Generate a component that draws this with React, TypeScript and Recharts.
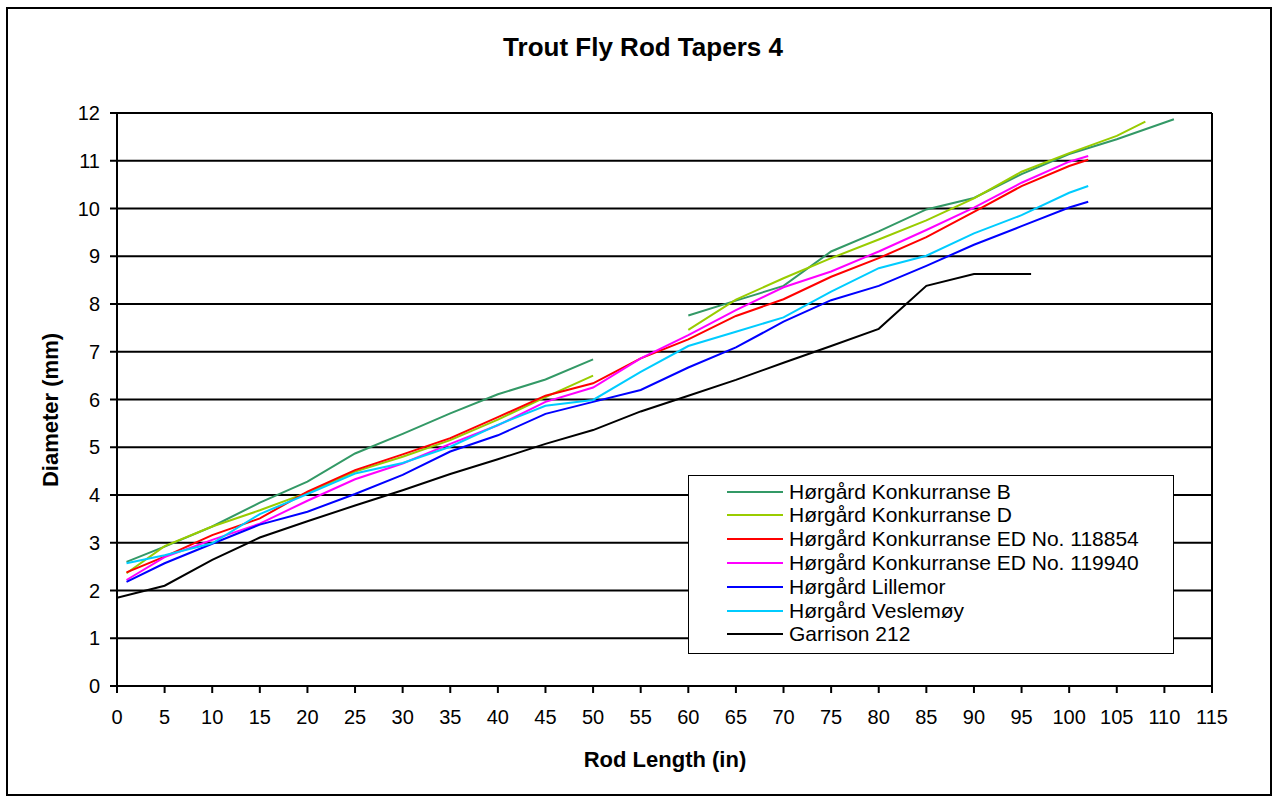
import React from "react";
import { LineChart, Line, XAxis, YAxis, CartesianGrid, ReferenceLine } from "recharts";

// rod length stations (in)
const stations = [1, 5, 10, 15, 20, 25, 30, 35, 40, 45, 50, 55, 60, 65, 70, 75, 80, 85, 90, 95, 100];
const stationsB = [...stations, 105, 111];
const stationsD = [...stations, 105, 108];
const stationsEd = [...stations, 102];
const stationsGarrison = [0, 5, 10, 15, 20, 25, 30, 35, 40, 45, 50, 55, 60, 65, 70, 75, 80, 85, 90, 96];

// diameters (mm)
const konkB = [2.6, 2.92, 3.34, 3.84, 4.28, 4.87, 5.28, 5.71, 6.11, 6.42, 6.84, null, 7.76, 8.07, 8.38, 9.1, 9.52, 9.98, 10.22, 10.72, 11.14, 11.45, 11.87];
const konkD = [2.36, 2.93, 3.34, 3.68, 4.05, 4.49, 4.8, 5.15, 5.58, 6.05, 6.5, null, 7.46, 8.09, 8.54, 8.96, 9.35, 9.75, 10.21, 10.77, 11.16, 11.52, 11.82];
const ed118854 = [2.38, 2.71, 3.16, 3.51, 4.07, 4.52, 4.85, 5.19, 5.63, 6.08, 6.34, 6.86, 7.26, 7.75, 8.1, 8.57, 8.96, 9.4, 9.93, 10.47, 10.89, 11.02];
const ed119940 = [2.22, 2.7, 3.06, 3.4, 3.88, 4.33, 4.66, 5.07, 5.46, 5.95, 6.25, 6.86, 7.35, 7.87, 8.35, 8.68, 9.1, 9.55, 10.02, 10.54, 10.98, 11.1];
const lillemor = [2.18, 2.57, 2.98, 3.38, 3.65, 4.02, 4.42, 4.91, 5.25, 5.7, 5.95, 6.2, 6.67, 7.09, 7.63, 8.08, 8.38, 8.8, 9.24, 9.63, 10.02, 10.14];
const veslemoy = [2.57, 2.74, 2.99, 3.6, 4.02, 4.45, 4.67, 5.01, 5.47, 5.87, 5.99, 6.58, 7.12, 7.42, 7.72, 8.26, 8.75, 9.01, 9.48, 9.86, 10.33, 10.47];
const garrison = [1.85, 2.1, 2.64, 3.11, 3.45, 3.78, 4.1, 4.44, 4.75, 5.07, 5.36, 5.75, 6.08, 6.41, 6.77, 7.12, 7.48, 8.38, 8.63, 8.63];

const xTicks = [0, 5, 10, 15, 20, 25, 30, 35, 40, 45, 50, 55, 60, 65, 70, 75, 80, 85, 90, 95, 100, 105, 110, 115];
const yTicks = [0, 1, 2, 3, 4, 5, 6, 7, 8, 9, 10, 11, 12];

const toPoints = (xs: number[], ys: (number | null)[]) => xs.map((x, i) => ({ x, y: ys[i] }));

const series = [
  { name: "Hørgård Konkurranse B", color: "#339966", data: toPoints(stationsB, konkB) },
  { name: "Hørgård Konkurranse D", color: "#99cc00", data: toPoints(stationsD, konkD) },
  { name: "Hørgård Konkurranse ED No. 118854", color: "#ff0000", data: toPoints(stationsEd, ed118854) },
  { name: "Hørgård Konkurranse ED No. 119940", color: "#ff00ff", data: toPoints(stationsEd, ed119940) },
  { name: "Hørgård Lillemor", color: "#0000ff", data: toPoints(stationsEd, lillemor) },
  { name: "Hørgård Veslemøy", color: "#00ccff", data: toPoints(stationsEd, veslemoy) },
  { name: "Garrison 212", color: "#000000", data: toPoints(stationsGarrison, garrison) },
];

const font = "'Liberation Sans', Arial, sans-serif";

export default function App() {
  return (
    <div style={{ position: "absolute", left: 0, top: 0, width: 1278, height: 801, background: "#fff", fontFamily: font }}>
      <div style={{ position: "absolute", left: 6, top: 7, width: 1266, height: 789, border: "2px solid #000", boxSizing: "border-box" }} />
      <LineChart width={1278} height={801} margin={{ top: 113, right: 66, bottom: 85, left: 57 }} style={{ position: "absolute", left: 0, top: 0 }}>
        <CartesianGrid vertical={false} stroke="#000" strokeWidth={2} />
        <XAxis
          type="number"
          dataKey="x"
          domain={[0, 115]}
          ticks={xTicks}
          interval={0}
          height={30}
          tickSize={7}
          tickMargin={17}
          stroke="#000"
          strokeWidth={2}
          tick={{ fill: "#000", fontSize: 20, fontFamily: font }}
          allowDataOverflow
        />
        <YAxis
          type="number"
          domain={[0, 12]}
          ticks={yTicks}
          interval={0}
          width={60}
          tickSize={7}
          tickMargin={10}
          stroke="#000"
          strokeWidth={2}
          tick={{ fill: "#000", fontSize: 20, fontFamily: font }}
        />
        <ReferenceLine x={115} stroke="#000" strokeWidth={2} />
        {series.map((s) => (
          <Line
            key={s.name}
            data={s.data}
            dataKey="y"
            name={s.name}
            type="linear"
            stroke={s.color}
            strokeWidth={2}
            dot={false}
            activeDot={false}
            connectNulls={false}
            isAnimationActive={false}
          />
        ))}
      </LineChart>
      <svg width={1278} height={801} style={{ position: "absolute", left: 0, top: 0, pointerEvents: "none" }}>
        <text x={643} y={56} textAnchor="middle" fontSize={26} fontWeight="bold" fontFamily={font} fill="#000">
          Trout Fly Rod Tapers 4
        </text>
        <text x={665} y={767} textAnchor="middle" fontSize={22} fontWeight="bold" fontFamily={font} fill="#000">
          Rod Length (in)
        </text>
        <text x={58} y={410} textAnchor="middle" fontSize={22} fontWeight="bold" fontFamily={font} fill="#000" transform="rotate(-90 58 410)">
          Diameter (mm)
        </text>
      </svg>
      <div style={{ position: "absolute", left: 688, top: 475, width: 486, height: 179, border: "1px solid #000", boxSizing: "border-box", background: "#fff" }}>
        {series.map((s, i) => (
          <div key={s.name} style={{ position: "absolute", left: 0, top: 3.8 + i * 23.77, height: 23.77, display: "flex", alignItems: "center", whiteSpace: "nowrap" }}>
            <svg width={56} height={4} style={{ marginLeft: 38 }}>
              <line x1={0} y1={2} x2={56} y2={2} stroke={s.color} strokeWidth={2} />
            </svg>
            <span style={{ marginLeft: 6, fontSize: 21, color: "#000", fontFamily: font }}>{s.name}</span>
          </div>
        ))}
      </div>
    </div>
  );
}
